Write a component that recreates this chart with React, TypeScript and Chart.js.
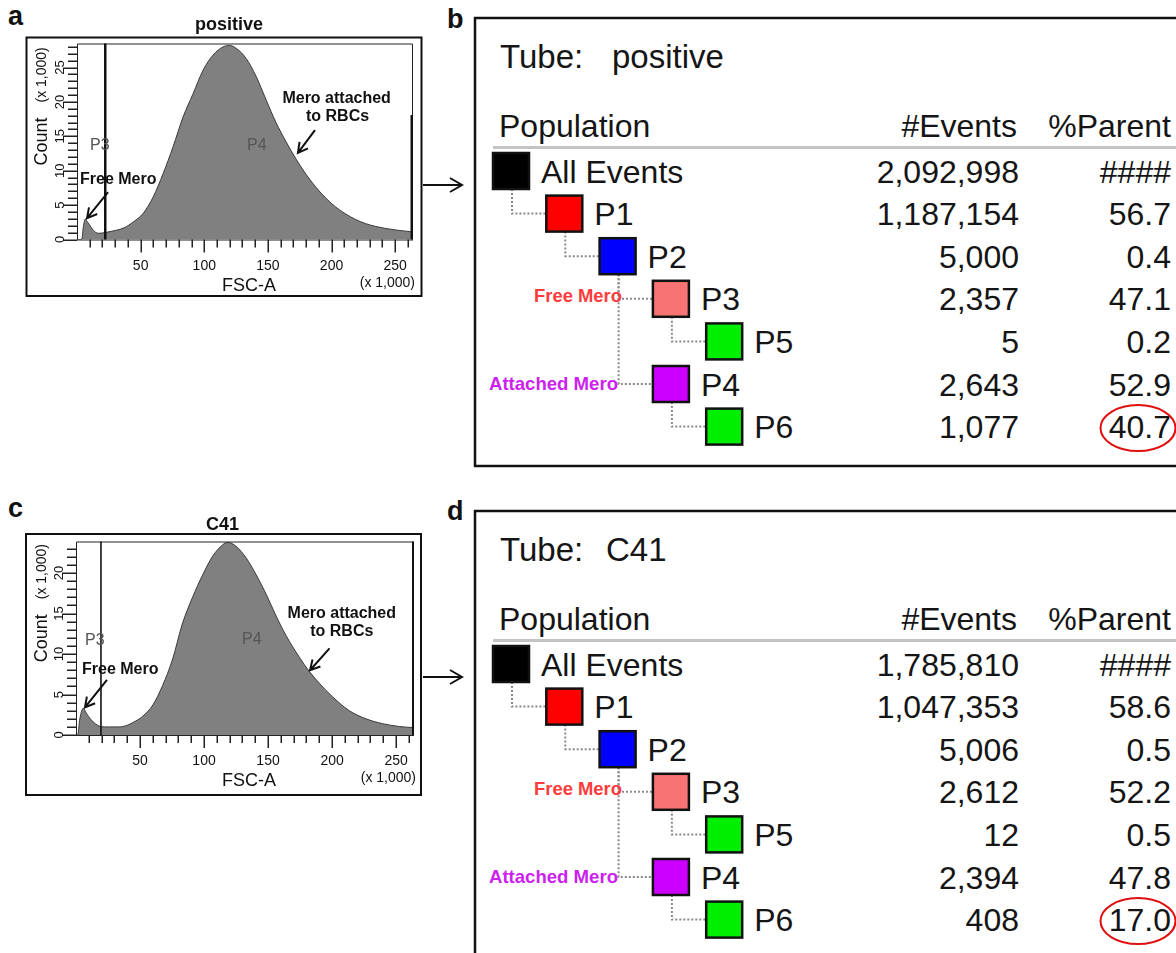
import React, { useEffect, useRef } from 'react';
import { Chart, registerables } from 'chart.js';

Chart.register(...registerables);

const FONT = "'Liberation Sans', Arial, Helvetica, sans-serif";

// ---------- Histogram data (FSC-A x 1,000 vs Count x 1,000) ----------
const fscPositive = [0, 3.7, 5, 6.5, 8, 9.6, 12.8, 16.7, 22.2, 26, 31, 37, 44.2, 52, 59.9, 67.7, 75.5, 83.3, 91.2, 99, 106.8, 114.7, 119.9, 125.1, 133, 140.8, 148.6, 156.4, 164.3, 172.1, 179.9, 187.7, 195.6, 203.4, 211.2, 219, 226.9, 234.7, 242.6, 252, 263.5];
const countPositive = [0, 0, 1.85, 3.0, 2.6, 2.2, 1.35, 0.9, 1.0, 1.15, 1.35, 1.7, 2.56, 3.8, 6.2, 9.6, 13.5, 17.8, 21.2, 24.6, 26.8, 28.0, 28.2, 27.8, 26.3, 23.7, 20.3, 17.0, 14.2, 11.7, 9.5, 7.6, 6.0, 4.7, 3.7, 2.9, 2.3, 1.9, 1.6, 1.35, 1.1];

const fscC41 = [0, 1.3, 3, 5.7, 8, 11.7, 15, 18.2, 22, 26, 33.8, 40, 44, 52, 60, 67.6, 75.5, 83, 91, 99, 106.8, 114.6, 118.5, 125, 132.8, 140.7, 148.5, 156.3, 164, 174.5, 182, 190, 200.5, 213.5, 226.5, 239.5, 252.5, 264];
const countC41 = [0, 0, 2.0, 3.3, 2.7, 1.9, 1.4, 1.1, 1.0, 1.0, 1.0, 1.2, 1.5, 2.3, 3.7, 6.1, 9.4, 13.7, 17.0, 19.8, 22.1, 23.5, 23.8, 23.3, 21.9, 19.8, 17.4, 14.7, 12.3, 9.6, 7.9, 6.4, 4.7, 3.0, 2.0, 1.4, 1.05, 0.9];

const fscMinorTicks = [10, 20, 30, 40, 50, 60, 70, 80, 90, 100, 110, 120, 130, 140, 150, 160, 170, 180, 190, 200, 210, 220, 230, 240, 250, 260];
const fscTickLabels = ['50', '100', '150', '200', '250'];
const countTickLabelsPositive = ['0', '5', '10', '15', '20', '25'];
const countTickLabelsC41 = ['0', '5', '10', '15', '20'];

// ---------- Population hierarchy tables ----------
const populationNames = ['All Events', 'P1', 'P2', 'P3', 'P5', 'P4', 'P6'];
const populationLevels = [0, 1, 2, 3, 4, 3, 4];
const populationParents = [-1, 0, 1, 2, 3, 2, 5];
const populationColors = ['#000000', '#ff0000', '#0000ff', '#f87474', '#00ee00', '#cc00ff', '#00ee00'];
const eventsPositive = [2092998, 1187154, 5000, 2357, 5, 2643, 1077];
const parentPctPositive: (number | null)[] = [null, 56.7, 0.4, 47.1, 0.2, 52.9, 40.7];
const eventsC41 = [1785810, 1047353, 5006, 2612, 12, 2394, 408];
const parentPctC41: (number | null)[] = [null, 58.6, 0.5, 52.2, 0.5, 47.8, 17.0];

type Ann = { x: number; y: number };
type HistCfg = {
  title: string;
  titleX: number;
  titleY: number;
  box: [number, number, number, number];
  padding: { left: number; top: number; right: number; bottom: number };
  yMax: number;
  yTickMax: number;
  yLabels: string[];
  gateX: number;
  gateWidth: number;
  rightFrom: number;
  rightWidth: number;
  p3: Ann;
  p4: Ann;
  free: Ann;
  freeArrow: [number, number, number, number];
  att1: Ann;
  att2: Ann;
  attArrow: [number, number, number, number];
};

function drawArrow(ctx: CanvasRenderingContext2D, x1: number, y1: number, x2: number, y2: number, head = 11) {
  const ang = Math.atan2(y2 - y1, x2 - x1);
  ctx.beginPath();
  ctx.moveTo(x1, y1);
  ctx.lineTo(x2, y2);
  ctx.moveTo(x2 - head * Math.cos(ang - 0.5), y2 - head * Math.sin(ang - 0.5));
  ctx.lineTo(x2, y2);
  ctx.lineTo(x2 - head * Math.cos(ang + 0.5), y2 - head * Math.sin(ang + 0.5));
  ctx.stroke();
}

const decorPlugin = (c: HistCfg) => ({
  id: 'histDecor',
  afterDatasetsDraw(chart: any) {
    const { ctx, chartArea: A, scales } = chart;
    const X = (v: number) => scales.x.getPixelForValue(v);
    const Y = (v: number) => scales.y.getPixelForValue(v);
    ctx.save();
    ctx.lineCap = 'butt';
    // outer box
    ctx.strokeStyle = '#111';
    ctx.lineWidth = 2;
    ctx.strokeRect(c.box[0], c.box[1], c.box[2] - c.box[0], c.box[3] - c.box[1]);
    // title
    ctx.fillStyle = '#111';
    ctx.font = `bold 18px ${FONT}`;
    ctx.textAlign = 'center';
    ctx.textBaseline = 'alphabetic';
    ctx.fillText(c.title, c.titleX, c.titleY);
    // plot frame
    ctx.strokeStyle = '#222';
    ctx.lineWidth = 1;
    ctx.beginPath();
    ctx.moveTo(A.left + 0.5, A.bottom);
    ctx.lineTo(A.left + 0.5, A.top + 0.5);
    ctx.lineTo(A.right - 0.5, A.top + 0.5);
    ctx.lineTo(A.right - 0.5, A.bottom);
    ctx.moveTo(A.left, A.bottom + 0.5);
    ctx.lineTo(A.right, A.bottom + 0.5);
    ctx.stroke();
    // right gate edge
    ctx.strokeStyle = '#111';
    ctx.lineWidth = c.rightWidth;
    ctx.beginPath();
    ctx.moveTo(A.right - c.rightWidth / 2, Y(c.rightFrom));
    ctx.lineTo(A.right - c.rightWidth / 2, A.bottom);
    ctx.stroke();
    // P3/P4 gate
    ctx.lineWidth = c.gateWidth;
    ctx.beginPath();
    ctx.moveTo(X(c.gateX), A.top);
    ctx.lineTo(X(c.gateX), A.bottom);
    ctx.stroke();
    // x ticks
    ctx.lineWidth = 1.5;
    ctx.strokeStyle = '#222';
    ctx.beginPath();
    for (const v of fscMinorTicks) {
      const px = Math.round(X(v)) + 0.25;
      const len = v % 50 === 0 ? 13 : 8;
      ctx.moveTo(px, A.bottom);
      ctx.lineTo(px, A.bottom + len);
    }
    ctx.stroke();
    ctx.font = `14px ${FONT}`;
    ctx.fillStyle = '#111';
    ctx.textAlign = 'center';
    for (const t of fscTickLabels) ctx.fillText(t, X(Number(t)), A.bottom + 30);
    // y ticks
    ctx.beginPath();
    for (let v = 0; v <= c.yTickMax; v++) {
      const py = Math.round(Y(v)) + 0.25;
      const len = v % 5 === 0 ? 14 : 9;
      ctx.moveTo(A.left - len, py);
      ctx.lineTo(A.left, py);
    }
    ctx.stroke();
    ctx.font = `13px ${FONT}`;
    for (const t of c.yLabels) {
      ctx.save();
      ctx.translate(A.left - 17, Y(Number(t)));
      ctx.rotate(-Math.PI / 2);
      ctx.textAlign = 'center';
      ctx.textBaseline = 'middle';
      ctx.fillText(t, 0, 0);
      ctx.restore();
    }
    // axis titles
    ctx.font = `18px ${FONT}`;
    ctx.textAlign = 'center';
    ctx.textBaseline = 'alphabetic';
    ctx.fillText('FSC-A', (A.left + A.right) / 2 + 4, A.bottom + 51);
    ctx.font = `14px ${FONT}`;
    ctx.textAlign = 'right';
    ctx.fillText('(x 1,000)', A.right + 2, A.bottom + 47);
    ctx.save();
    ctx.translate(47, (A.top + A.bottom) / 2);
    ctx.rotate(-Math.PI / 2);
    ctx.font = `18px ${FONT}`;
    ctx.textAlign = 'center';
    ctx.fillText('Count', 0, 0);
    const wC = ctx.measureText('Count').width;
    ctx.font = `14px ${FONT}`;
    ctx.textAlign = 'left';
    ctx.fillText('(x 1,000)', wC / 2 + 15, -1);
    ctx.restore();
    // gate names
    ctx.font = `16px ${FONT}`;
    ctx.fillStyle = '#555';
    ctx.textAlign = 'left';
    ctx.fillText('P3', X(c.p3.x), Y(c.p3.y));
    ctx.fillText('P4', X(c.p4.x), Y(c.p4.y));
    // annotations
    ctx.fillStyle = '#111';
    ctx.font = `bold 16px ${FONT}`;
    ctx.fillText('Free Mero', X(c.free.x), Y(c.free.y));
    ctx.textAlign = 'center';
    ctx.fillText('Mero attached', X(c.att1.x), Y(c.att1.y));
    ctx.fillText('to RBCs', X(c.att2.x), Y(c.att2.y));
    ctx.strokeStyle = '#111';
    ctx.lineWidth = 2;
    const fa = c.freeArrow;
    drawArrow(ctx, X(fa[0]), Y(fa[1]), X(fa[2]), Y(fa[3]));
    const aa = c.attArrow;
    drawArrow(ctx, X(aa[0]), Y(aa[1]), X(aa[2]), Y(aa[3]));
    ctx.restore();
  },
});

function Histogram({ top, xs, ys, cfg }: { top: number; xs: number[]; ys: number[]; cfg: HistCfg }) {
  const ref = useRef<HTMLCanvasElement>(null);
  useEffect(() => {
    const chart = new Chart(ref.current as HTMLCanvasElement, {
      type: 'line',
      data: {
        datasets: [
          {
            data: xs.map((x, i) => ({ x, y: ys[i] })),
            fill: 'origin',
            backgroundColor: '#808080',
            borderColor: '#3a3a3a',
            borderWidth: 1,
            pointRadius: 0,
            cubicInterpolationMode: 'monotone',
          } as any,
        ],
      },
      options: {
        responsive: false,
        animation: false,
        devicePixelRatio: 1,
        events: [],
        layout: { padding: cfg.padding },
        plugins: { legend: { display: false }, tooltip: { enabled: false } },
        scales: {
          x: { type: 'linear', min: 0, max: 264, display: false },
          y: { type: 'linear', min: 0, max: cfg.yMax, display: false },
        },
      },
      plugins: [decorPlugin(cfg)],
    });
    return () => chart.destroy();
  }, []);
  return (
    <canvas
      ref={ref}
      width={440}
      height={310}
      style={{ position: 'absolute', left: 0, top, width: 440, height: 310 }}
    />
  );
}

const cfgPositive: HistCfg = {
  title: 'positive',
  titleX: 229,
  titleY: 30,
  box: [26.5, 37.5, 421.5, 296],
  padding: { left: 77, top: 43.5, right: 27, bottom: 70.5 },
  yMax: 28.5,
  yTickMax: 28,
  yLabels: countTickLabelsPositive,
  gateX: 22.2,
  gateWidth: 2.5,
  rightFrom: 18.1,
  rightWidth: 2.5,
  p3: { x: 10.2, y: 13.0 },
  p4: { x: 133.6, y: 13.0 },
  free: { x: 2.4, y: 8.1 },
  freeArrow: [24.4, 6.9, 7.9, 3.1],
  att1: { x: 204, y: 19.9 },
  att2: { x: 204.7, y: 17.2 },
  attArrow: [187, 15.9, 173.6, 12.6],
};

const cfgC41: HistCfg = {
  title: 'C41',
  titleX: 222.5,
  titleY: 40,
  box: [26, 44, 421, 305],
  padding: { left: 76, top: 51.5, right: 26, bottom: 65 },
  yMax: 23.9,
  yTickMax: 23,
  yLabels: countTickLabelsC41,
  gateX: 19.5,
  gateWidth: 1.6,
  rightFrom: 23.9,
  rightWidth: 2,
  p3: { x: 7.0, y: 11.1 },
  p4: { x: 129.7, y: 11.2 },
  free: { x: 4.7, y: 7.5 },
  freeArrow: [24.2, 6.8, 7.0, 3.4],
  att1: { x: 207.6, y: 14.4 },
  att2: { x: 207.6, y: 12.2 },
  attArrow: [198, 10.7, 182.8, 8.0],
};

function GateTable({
  top,
  tube,
  tubeX,
  events,
  pct,
}: {
  top: number;
  tube: string;
  tubeX: number;
  events: number[];
  pct: (number | null)[];
}) {
  const rowC = (i: number) => top + 153 + i * 42.6;
  const sqL = (lvl: number) => 493 + lvl * 53.3;
  const SQ = 36;
  const txt = '#151515';
  const lastRow = populationNames.length - 1;
  return (
    <g fontFamily={FONT}>
      <rect x={475} y={top} width={900} height={448} fill="none" stroke="#111" strokeWidth={2.5} />
      <text x={500} y={top + 50} fontSize={33} fill={txt}>Tube:</text>
      <text x={tubeX} y={top + 50} fontSize={33} fill={txt}>{tube}</text>
      <text x={499} y={top + 118.5} fontSize={32} fill={txt}>Population</text>
      <text x={1017} y={top + 118.5} fontSize={32} fill={txt} textAnchor="end">#Events</text>
      <text x={1171} y={top + 118.5} fontSize={32} fill={txt} textAnchor="end">%Parent</text>
      <line x1={493} y1={top + 129.5} x2={1180} y2={top + 129.5} stroke="#c4c4c4" strokeWidth={3} />
      {populationNames.map((name, i) => {
        const p = populationParents[i];
        if (p < 0) return null;
        const vx = sqL(populationLevels[p]) + 19;
        return (
          <path
            key={'c' + i}
            d={`M${vx},${rowC(p) + SQ / 2} L${vx},${rowC(i)} L${sqL(populationLevels[i])},${rowC(i)}`}
            fill="none"
            stroke="#8a8a8a"
            strokeWidth={2}
            strokeDasharray="2 2"
          />
        );
      })}
      <text x={622} y={rowC(3) + 3} fontSize={19} fontWeight="bold" fill="#ff3c3c" textAnchor="end" textLength={88} lengthAdjust="spacingAndGlyphs">Free Mero</text>
      <text x={618} y={rowC(5) + 6} fontSize={19} fontWeight="bold" fill="#cc22ee" textAnchor="end" textLength={129} lengthAdjust="spacingAndGlyphs">Attached Mero</text>
      {populationNames.map((name, i) => {
        const l = populationLevels[i];
        const c = rowC(i);
        const v = pct[i];
        return (
          <g key={'r' + i}>
            <rect x={sqL(l)} y={c - SQ / 2} width={SQ} height={SQ} fill={populationColors[i]} stroke="#111" strokeWidth={2.5} />
            <text x={sqL(l) + 48} y={c + 11.5} fontSize={32} fill={txt}>{name}</text>
            <text x={1019} y={c + 11.5} fontSize={32} fill={txt} textAnchor="end">{events[i].toLocaleString('en-US')}</text>
            <text x={1171} y={c + 11.5} fontSize={32} fill={txt} textAnchor="end">{v == null ? '####' : v.toFixed(1)}</text>
          </g>
        );
      })}
      <ellipse cx={1138} cy={rowC(lastRow) + 1.5} rx={37.5} ry={23} fill="none" stroke="#e01010" strokeWidth={2} />
    </g>
  );
}

function PanelArrow({ y }: { y: number }) {
  return (
    <g stroke="#111" strokeWidth={2} fill="none">
      <line x1={423} y1={y} x2={461} y2={y} />
      <polyline points={`${450},${y - 7} ${462},${y} ${450},${y + 7}`} />
    </g>
  );
}

export default function App() {
  return (
    <div
      style={{
        position: 'fixed',
        left: 0,
        top: 0,
        width: 1176,
        height: 953,
        background: '#ffffff',
        overflow: 'hidden',
      }}
    >
      <svg
        width={1176}
        height={953}
        style={{ position: 'absolute', left: 0, top: 0 }}
        xmlns="http://www.w3.org/2000/svg"
      >
        <g fontFamily={FONT} fontWeight="bold" fontSize={27} fill="#111">
          <text x={8} y={25}>a</text>
          <text x={447} y={28}>b</text>
          <text x={8} y={517}>c</text>
          <text x={447} y={520}>d</text>
        </g>
        <PanelArrow y={185} />
        <PanelArrow y={677} />
        <GateTable top={18} tube="positive" tubeX={612} events={eventsPositive} pct={parentPctPositive} />
        <GateTable top={511} tube="C41" tubeX={606} events={eventsC41} pct={parentPctC41} />
      </svg>
      <Histogram top={0} xs={fscPositive} ys={countPositive} cfg={cfgPositive} />
      <Histogram top={490} xs={fscC41} ys={countC41} cfg={cfgC41} />
    </div>
  );
}
